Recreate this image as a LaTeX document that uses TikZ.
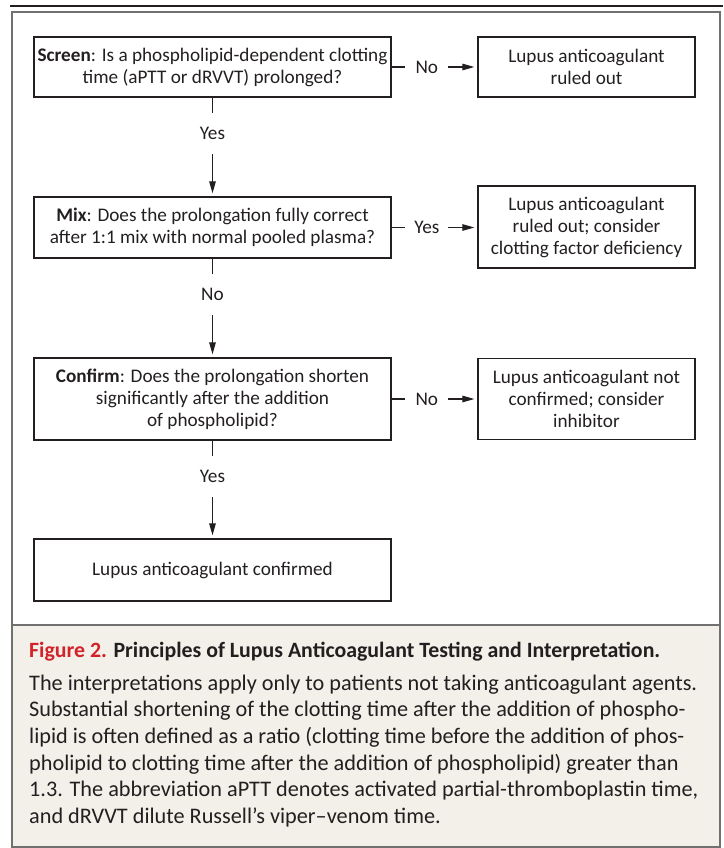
\documentclass[tikz,border=0pt]{standalone}
\usepackage{fontspec}
\setmainfont{Carlito}
\usetikzlibrary{arrows.meta}
\definecolor{nejmred}{HTML}{D2232A}
\definecolor{capbg}{HTML}{F3F0EA}
\definecolor{framegray}{HTML}{707070}
\definecolor{ink}{HTML}{231F20}
\newlength\mywA
\newlength\mywB
\newlength\mywC
\AtBeginDocument{%
\settowidth\mywA{\fontsize{20}{24}\selectfont\bfseries Figure 2. Principles of Lupus Anticoagulant Testing and Interpretation.}%
\settowidth\mywB{\fontsize{20}{24}\selectfont The interpretations apply only to patients not taking anticoagulant agents.}%
\settowidth\mywC{\fontsize{20}{24}\selectfont\textbf{Screen}: Is a phospholipid-dependent clotting}%
\pgfmathsetmacro\ttlsize{20*631/\mywA}%
\pgfmathsetmacro\capsize{20*668/\mywB}%
\pgfmathsetmacro\bxsize{20*350/\mywC}%
\xdef\ttlsize{\ttlsize}\xdef\capsize{\capsize}\xdef\bxsize{\bxsize}%
}
\newcommand\bxfont{\fontsize{\bxsize}{22}\selectfont}
\newcommand\capfont{\fontsize{\capsize}{26.7}\selectfont}
\newcommand\ttlfont{\fontsize{\ttlsize}{26.7}\selectfont}
\begin{document}
\begin{tikzpicture}[x=1pt,y=-1pt,
  box/.style={draw=ink, line width=1.3pt, align=center, inner sep=0pt, text=ink, font=\bxfont},
  qbox/.style={box, minimum width=357pt},
  abox/.style={box, minimum width=217pt},
  conn/.style={draw=ink, line width=1.2pt, -{Triangle[length=12pt,width=6.5pt]}, shorten >=3pt},
  vlbl/.style={fill=white, inner sep=0pt, minimum height=41pt, text=ink, font=\bxfont, pos=0.365},
  hlbl/.style={fill=white, inner sep=0pt, minimum width=43pt, text=ink, font=\bxfont, pos=0.41},
]
\useasboundingbox (0,0) rectangle (723,848);
% top rule and frame
\draw[ink, line width=1.4pt] (10,6) -- (723,6);
\fill[capbg] (11.5,624.5) rectangle (720,846.5);
\draw[framegray, line width=2pt] (11.5,12.5) rectangle (720,846.5);
\draw[framegray, line width=2pt] (11.5,624.5) -- (720,624.5);

% boxes
\node[qbox, minimum height=60pt] (screen) at (212.5,67) {\textbf{Screen}: Is a phospholipid-dependent clotting\\time (aPTT or dRVVT) prolonged?};
\node[abox, minimum height=60pt] (out1) at (586.5,67) {Lupus anticoagulant\\ruled out};
\node[qbox, minimum height=61pt] (mix) at (212.5,227.5) {\textbf{Mix}: Does the prolongation fully correct\\after 1:1 mix with normal pooled plasma?};
\node[abox, minimum height=82pt] (out2) at (586.5,227) {Lupus anticoagulant\\ruled out; consider\\clotting factor deficiency};
\node[qbox, minimum height=82pt] (confirm) at (212.5,399) {\textbf{Confirm}: Does the prolongation shorten\\significantly after the addition\\of phospholipid?};
\node[abox, minimum height=81pt] (out3) at (586.5,399) {Lupus anticoagulant not\\confirmed; consider\\inhibitor};
\node[qbox, minimum height=62pt] (confirmed) at (212.5,570) {Lupus anticoagulant confirmed};

% connectors
\draw[conn] (screen.south) -- node[vlbl] (l1) {Yes} (mix.north);
\draw[conn] (mix.south) -- node[vlbl] (l2) {No} (confirm.north);
\draw[conn] (confirm.south) -- node[vlbl] (l3) {Yes} (confirmed.north);
\draw[conn] (screen.east) -- node[hlbl] (l4) {No} (out1.west);
\draw[conn] (mix.east) -- node[hlbl] (l5) {Yes} (mix.east -| out2.west);
\draw[conn] (confirm.east) -- node[hlbl] (l6) {No} (out3.west);

% caption
\node[anchor=west, inner sep=0pt, font=\ttlfont\bfseries, text=ink] (title) at (29,652)
  {\textcolor{nejmred}{Figure 2.} Principles of Lupus Anticoagulant Testing and Interpretation.};
\node[anchor=north west, inner sep=0pt, align=left, font=\capfont, text=ink] (body) at (29,674.5)
  {The interpretations apply only to patients not taking anticoagulant agents.\\
   Substantial shortening of the clotting time after the addition of phospho-\\
   lipid is often defined as a ratio (clotting time before the addition of phos-\\
   pholipid to clotting time after the addition of phospholipid) greater than\\
   1.3. The abbreviation aPTT denotes activated partial-thromboplastin time,\\
   and dRVVT dilute Russell’s viper–venom time.};
\end{tikzpicture}
\end{document}
